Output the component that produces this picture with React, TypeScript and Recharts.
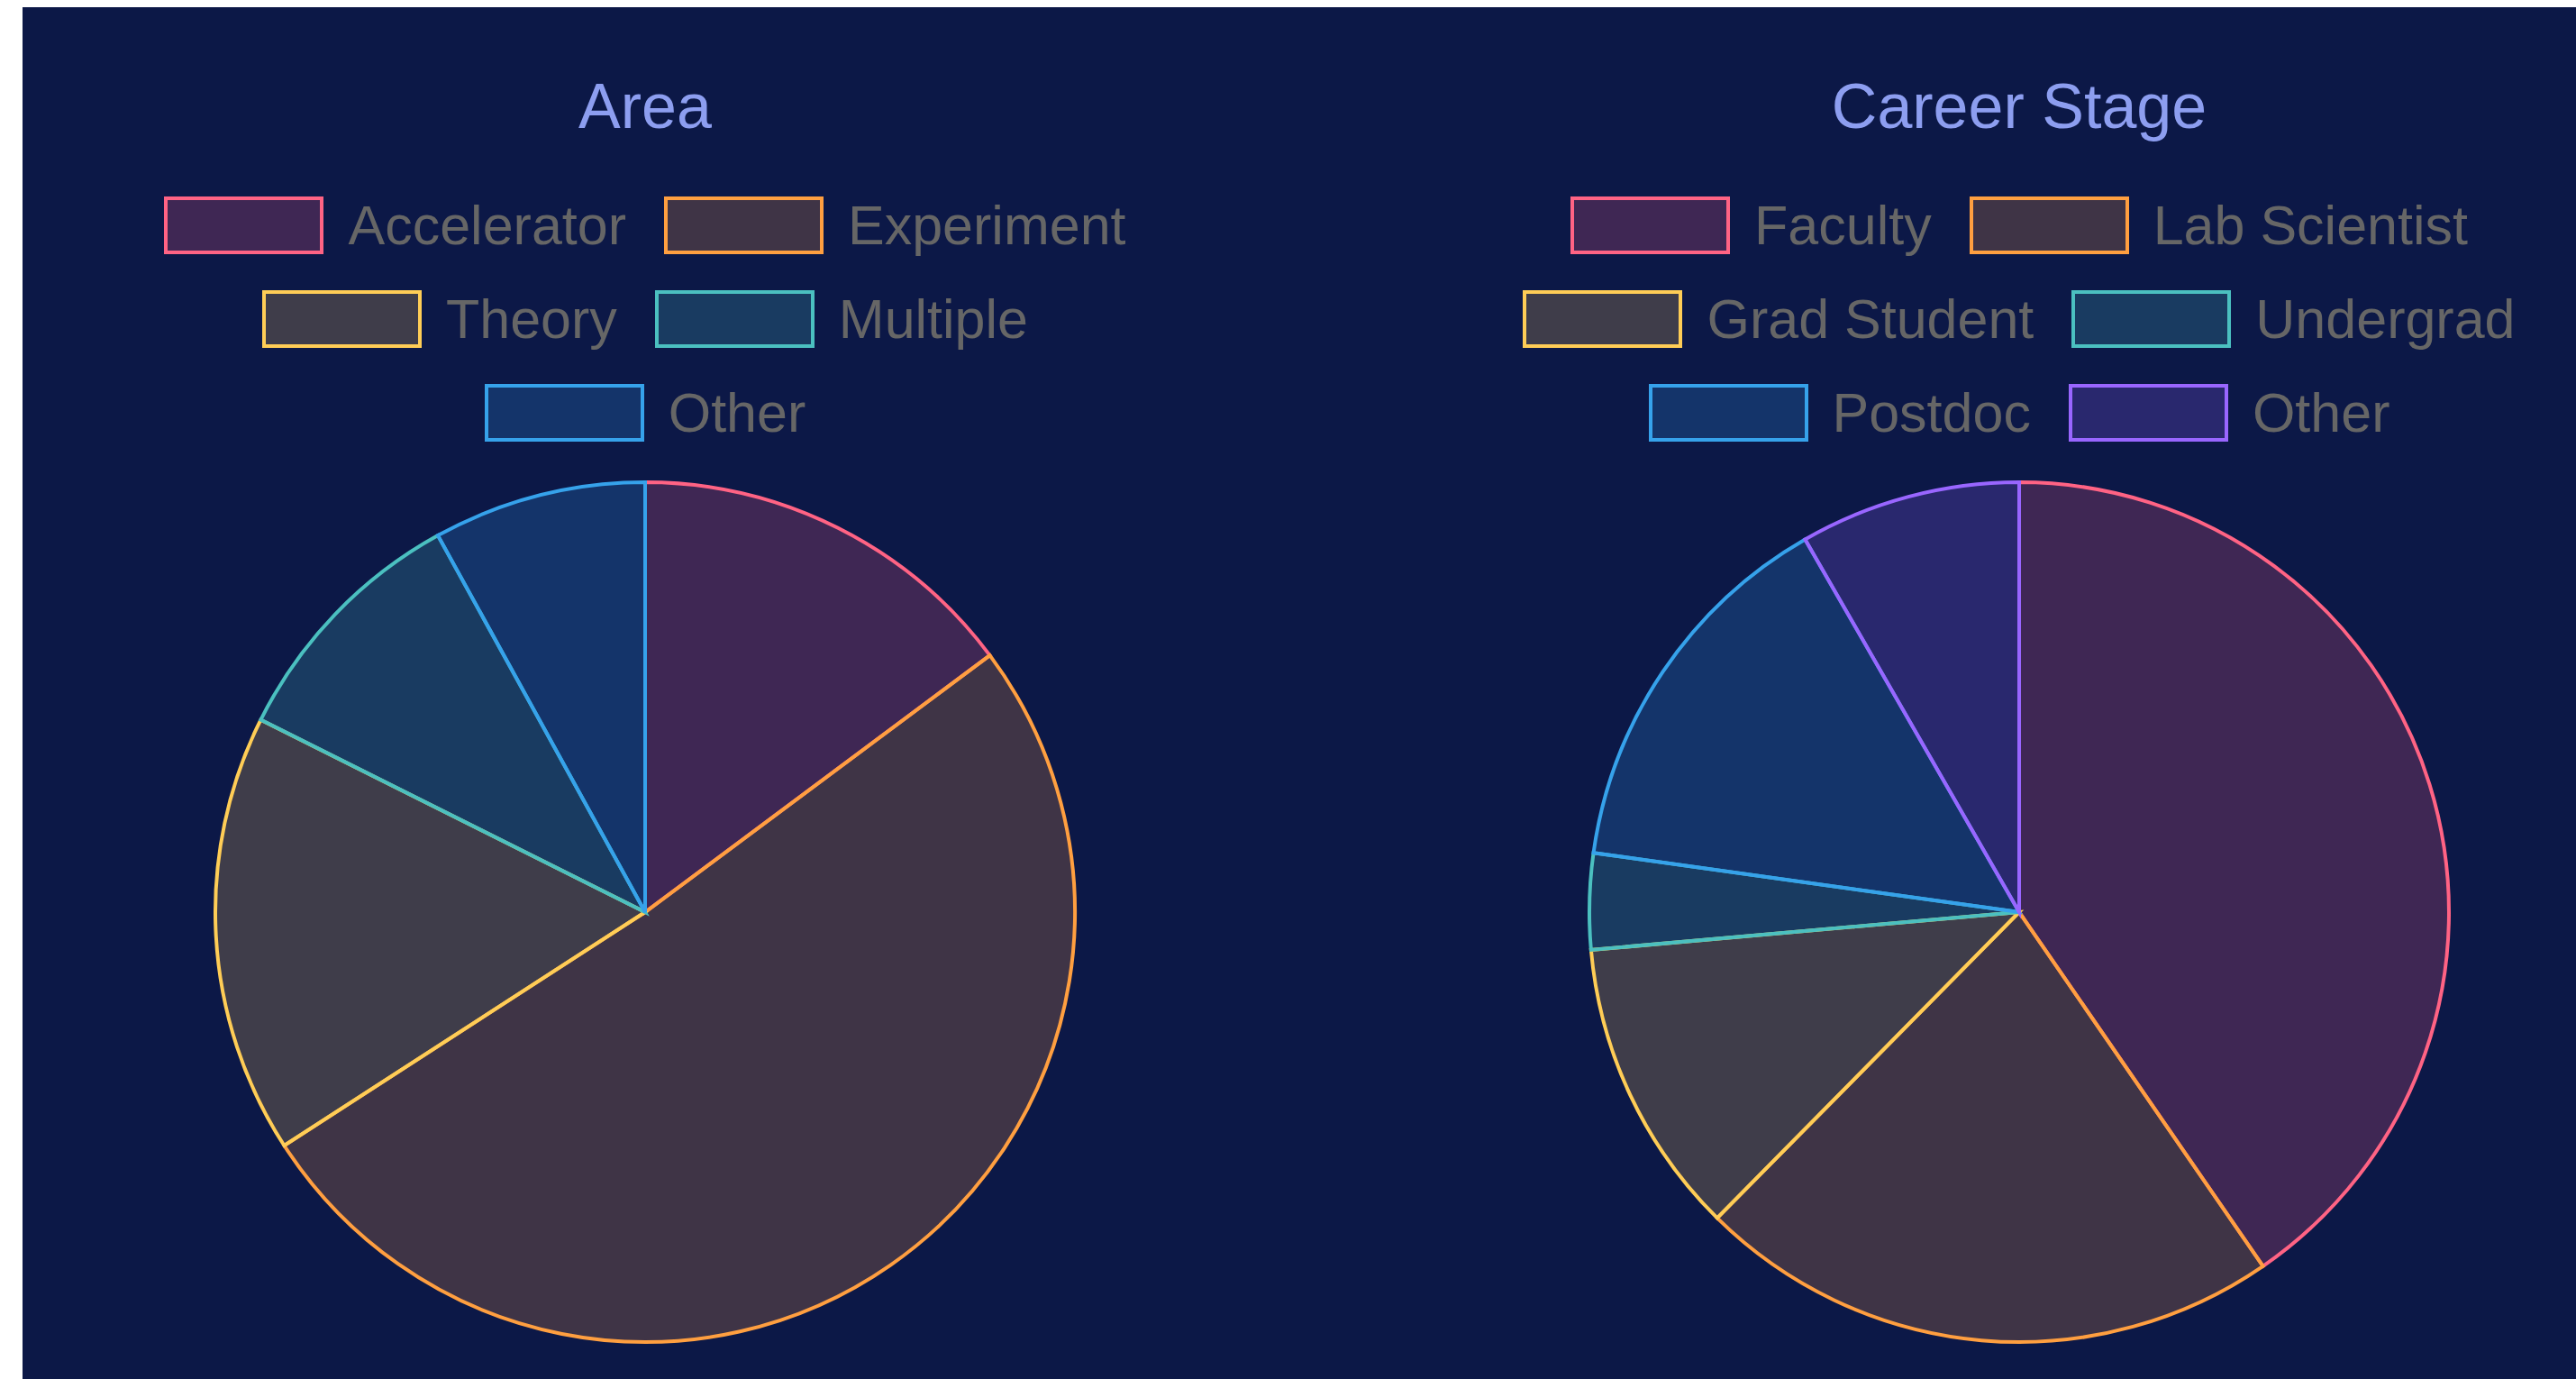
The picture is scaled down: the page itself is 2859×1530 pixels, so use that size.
import React from "react";
import { PieChart, Pie, Cell } from "recharts";

const areaLabels = ["Accelerator", "Experiment", "Theory", "Multiple", "Other"];
const areaValues = [14.8, 51.0, 16.5, 9.6, 8.0];
const careerLabels = ["Faculty", "Lab Scientist", "Grad Student", "Undergrad", "Postdoc", "Other"];
const careerValues = [40.4, 22.0, 11.2, 3.6, 14.5, 8.3];
const palette = ["#ff6384", "#ff9f40", "#ffcd56", "#4bc0c0", "#36a2eb", "#9966ff"];
const titles = ["Area", "Career Stage"];

const BG = "#0c1847";
const FONT = "'Liberation Sans', Arial, Helvetica, sans-serif";

const W = 2834;
const H = 1522;
const centers = [691, 2216];
const CY = 1004;
const R = 477;

const areaData = areaLabels.map((name, i) => ({ name, value: areaValues[i] }));
const careerData = careerLabels.map((name, i) => ({ name, value: careerValues[i] }));

function LegendBlock({ labels, cx }: { labels: string[]; cx: number }) {
  const width = 1170;
  return (
    <div
      style={{
        position: "absolute",
        left: cx - width / 2,
        top: 210,
        width,
        display: "flex",
        flexWrap: "wrap",
        justifyContent: "center",
        columnGap: 42,
        rowGap: 40,
      }}
    >
      {labels.map((l, i) => (
        <div key={l} style={{ display: "flex", alignItems: "center", height: 64 }}>
          <div
            style={{
              width: 177,
              height: 64,
              boxSizing: "border-box",
              border: `4px solid ${palette[i]}`,
              background: palette[i] + "36",
              marginRight: 27,
            }}
          />
          <span
            style={{
              fontFamily: FONT,
              fontSize: 61,
              color: "#666666",
              lineHeight: "64px",
              whiteSpace: "nowrap",
            }}
          >
            {l}
          </span>
        </div>
      ))}
    </div>
  );
}

function Title({ text, cx }: { text: string; cx: number }) {
  return (
    <div
      style={{
        position: "absolute",
        left: cx - 500,
        width: 1000,
        top: 70,
        height: 80,
        lineHeight: "80px",
        textAlign: "center",
        fontFamily: FONT,
        fontSize: 70,
        color: "#8d9ef0",
      }}
    >
      {text}
    </div>
  );
}

export default function App() {
  return (
    <div
      style={{
        position: "fixed",
        left: 25,
        top: 8,
        width: W,
        height: H,
        background: BG,
        overflow: "hidden",
      }}
    >
      <div style={{ position: "absolute", left: 0, top: 0 }}>
        <PieChart width={W} height={H} margin={{ top: 0, right: 0, bottom: 0, left: 0 }}>
          <Pie
            data={areaData}
            dataKey="value"
            nameKey="name"
            cx={centers[0]}
            cy={CY}
            outerRadius={R}
            innerRadius={0}
            startAngle={90}
            endAngle={-270}
            isAnimationActive={false}
          >
            {areaData.map((d, i) => (
              <Cell key={d.name} fill={palette[i]} fillOpacity={0.21} stroke={palette[i]} strokeWidth={4} />
            ))}
          </Pie>
          <Pie
            data={careerData}
            dataKey="value"
            nameKey="name"
            cx={centers[1]}
            cy={CY}
            outerRadius={R}
            innerRadius={0}
            startAngle={90}
            endAngle={-270}
            isAnimationActive={false}
          >
            {careerData.map((d, i) => (
              <Cell key={d.name} fill={palette[i]} fillOpacity={0.21} stroke={palette[i]} strokeWidth={4} />
            ))}
          </Pie>
        </PieChart>
      </div>
      <Title text={titles[0]} cx={centers[0]} />
      <Title text={titles[1]} cx={centers[1]} />
      <LegendBlock labels={areaLabels} cx={centers[0]} />
      <LegendBlock labels={careerLabels} cx={centers[1]} />
    </div>
  );
}
